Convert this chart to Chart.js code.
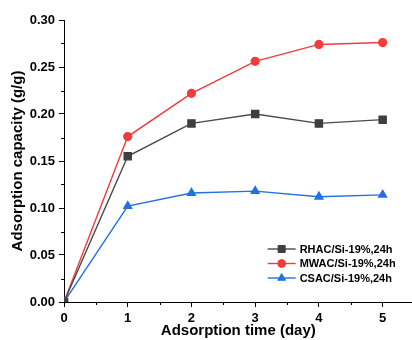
<!DOCTYPE html>
<html>
<head>
<meta charset="utf-8">
<script src="https://cdn.jsdelivr.net/npm/chart.js@4/dist/chart.umd.min.js"></script>
<style>
html,body{margin:0;padding:0;background:#fff;overflow:hidden;}
#wrap{width:412px;height:340px;position:relative;overflow:hidden;}
</style>
</head>
<body>
<div id="wrap"><canvas id="c" width="419" height="340"></canvas></div>
<script>
const days = [0, 1, 2, 3, 4, 5];
const rhac = [0, 0.155, 0.190, 0.200, 0.190, 0.194];
const mwac = [0, 0.176, 0.222, 0.256, 0.274, 0.276];
const csac = [0, 0.102, 0.116, 0.118, 0.112, 0.114];
const seriesNames = ['RHAC/Si-19%,24h', 'MWAC/Si-19%,24h', 'CSAC/Si-19%,24h'];
const xMajorTicks = [0, 1, 2, 3, 4, 5];
const xMinorTicks = [0.5, 1.5, 2.5, 3.5, 4.5];
const yMajorTicks = [0, 0.05, 0.10, 0.15, 0.20, 0.25, 0.30];
const yMinorTicks = [0.025, 0.075, 0.125, 0.175, 0.225, 0.275];

const FONT = '"Liberation Sans", Arial, sans-serif';
const toXY = arr => arr.map((v, i) => ({x: days[i], y: v}));

const minorTicks = {
  id: 'minorTicks',
  afterDraw(chart) {
    const ctx = chart.ctx, xs = chart.scales.x, ys = chart.scales.y;
    ctx.save();
    ctx.strokeStyle = '#000';
    ctx.lineWidth = 1;
    ctx.beginPath();
    xMinorTicks.forEach(v => {
      const px = Math.round(xs.getPixelForValue(v)) + 0.5;
      ctx.moveTo(px, xs.top);
      ctx.lineTo(px, xs.top + 3);
    });
    yMinorTicks.forEach(v => {
      const py = Math.round(ys.getPixelForValue(v)) + 0.5;
      ctx.moveTo(ys.right, py);
      ctx.lineTo(ys.right - 3, py);
    });
    ctx.stroke();
    ctx.restore();
  }
};

const customLegend = {
  id: 'customLegend',
  afterDraw(chart) {
    const ctx = chart.ctx, xs = chart.scales.x, ca = chart.chartArea;
    const x0 = xs.getPixelForValue(5) - 115;
    ctx.save();
    chart.data.datasets.forEach((ds, i) => {
      const y = ca.bottom - 53 + i * 14.5;
      ctx.strokeStyle = ds.borderColor;
      ctx.lineWidth = ds.borderWidth;
      ctx.beginPath();
      ctx.moveTo(x0, y);
      ctx.lineTo(x0 + 28, y);
      ctx.stroke();
      ctx.fillStyle = ds.pointBackgroundColor;
      ctx.strokeStyle = ds.pointBorderColor;
      ctx.lineWidth = 1;
      Chart.helpers.drawPoint(ctx, {pointStyle: ds.pointStyle, rotation: 0, radius: ds.pointRadius, borderWidth: 1}, x0 + 14, y);
      ctx.fillStyle = '#000';
      ctx.font = 'bold 11px ' + FONT;
      ctx.textBaseline = 'middle';
      ctx.textAlign = 'left';
      ctx.fillText(ds.label, x0 + 32, y + 0.5);
    });
    ctx.restore();
  }
};

new Chart(document.getElementById('c'), {
  type: 'line',
  data: {
    datasets: [
      {label: seriesNames[0], data: toXY(rhac), borderColor: '#4a4a4a', backgroundColor: '#3f3f3f',
       pointBackgroundColor: '#3f3f3f', pointBorderColor: '#3f3f3f', pointStyle: 'rect', pointRadius: 5, borderWidth: 1.4},
      {label: seriesNames[1], data: toXY(mwac), borderColor: '#f23c3c', backgroundColor: '#f23c3c',
       pointBackgroundColor: '#f23c3c', pointBorderColor: '#f23c3c', pointStyle: 'circle', pointRadius: 3.9, borderWidth: 1.4},
      {label: seriesNames[2], data: toXY(csac), borderColor: '#2270e2', backgroundColor: '#2270e2',
       pointBackgroundColor: '#2270e2', pointBorderColor: '#2270e2', pointStyle: 'triangle', pointRadius: 4.5, borderWidth: 1.4}
    ]
  },
  options: {
    responsive: false,
    animation: false,
    layout: {padding: {top: 20, right: 0, left: 0, bottom: 0}},
    plugins: {legend: {display: false}, tooltip: {enabled: false}},
    elements: {line: {tension: 0}},
    scales: {
      x: {
        type: 'linear', min: 0, max: 5.47,
        afterBuildTicks: s => { s.ticks = xMajorTicks.map(v => ({value: v})); },
        afterFit: s => { s.height = 38; },
        border: {color: '#000', width: 1},
        grid: {drawOnChartArea: false, drawTicks: true, tickLength: 5, tickColor: '#000'},
        ticks: {autoSkip: false, maxRotation: 0, padding: 4, color: '#000',
                font: {family: FONT, size: 13, weight: 'bold'}, callback: v => String(v)},
        title: {display: true, text: 'Adsorption time (day)', color: '#000', padding: {top: 0, bottom: 0},
                font: {family: FONT, size: 15, weight: 'bold'}}
      },
      y: {
        min: 0, max: 0.3,
        afterBuildTicks: s => { s.ticks = yMajorTicks.map(v => ({value: v})); },
        afterFit: s => { s.width = 64; },
        border: {color: '#000', width: 1},
        grid: {drawOnChartArea: false, drawTicks: true, tickLength: 5, tickColor: '#000'},
        ticks: {padding: 4, color: '#000', font: {family: FONT, size: 13, weight: 'bold'},
                callback: v => Number(v).toFixed(2)},
        title: {display: true, text: 'Adsorption capacity (g/g)', color: '#000', padding: {top: 9, bottom: 0},
                font: {family: FONT, size: 15, weight: 'bold'}}
      }
    }
  },
  plugins: [minorTicks, customLegend]
});
</script>
</body>
</html>
